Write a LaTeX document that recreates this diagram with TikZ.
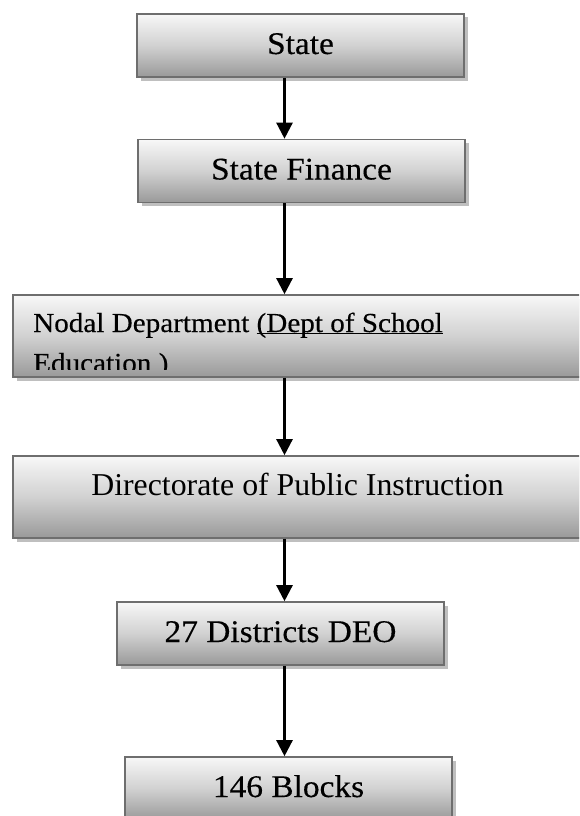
\documentclass[tikz,border=0pt]{standalone}
\usepackage{fontspec}
\setmainfont{Liberation Serif}
\newfontfamily\cambfont[FakeStretch=1.06,FakeBold=0.3]{Liberation Serif}
\usetikzlibrary{arrows.meta,shadows}
\newcommand\myuline[1]{\setbox0\hbox{#1}\rlap{\rule[-2.2pt]{\wd0}{1.4pt}}\box0}
\begin{document}
\begin{tikzpicture}[x=1pt,y=-1pt,
  boxbase/.style={draw=black!57, line width=1.6pt, top color=black!3, bottom color=black!40, middle color=black!18,
    drop shadow={shadow xshift=3.5pt, shadow yshift=-3.5pt, fill=black!25, opacity=1},
    inner sep=0pt, anchor=center, text=black},
  smallbox/.style={boxbase, minimum width=327pt, minimum height=63pt, text height=21pt, text depth=4pt,
    font=\cambfont\fontsize{31.5}{36}\selectfont},
  widebox/.style={boxbase, minimum width=569pt, minimum height=82pt},
  nodaltext/.style={inner sep=0pt, font=\cambfont\fontsize{27.5}{40}\selectfont},
  arr/.style={line width=2.4pt, draw=black, -{Triangle[width=16pt,length=16pt]}}]
\useasboundingbox (0,0) rectangle (579,816);
\clip (0,0) rectangle (579,816);
\coordinate (ax) at (284.5,0);
\node[smallbox] (state) at (300.5,45.5) {State};
\node[smallbox] (fin) at (301.5,171) {State Finance};
\node[widebox] (nodal) at (297.5,336) {};
\begin{scope}
  \clip (nodal.north west) rectangle (583,369);
  \node[nodaltext, anchor=base west] (nodal1) at (33,332) {Nodal Department \myuline{(Dept of School}};
  \node[nodaltext, anchor=base west] (nodal2) at (33,372) {Education )};
\end{scope}
\node[widebox, text height=20pt, text depth=24pt, font=\fontsize{31.8}{38}\selectfont] (dir) at (297.5,497) {Directorate of Public Instruction};
\node[smallbox] (deo) at (280.5,633.5) {27 Districts DEO};
\node[smallbox] (blocks) at (288.5,788.5) {146 Blocks};
\draw[arr] (state.south -| ax) -- (fin.north -| ax);
\draw[arr] (fin.south -| ax) -- (nodal.north -| ax);
\draw[arr] (nodal.south -| ax) -- (dir.north -| ax);
\draw[arr] (dir.south -| ax) -- (deo.north -| ax);
\draw[arr] (deo.south -| ax) -- (blocks.north -| ax);
\end{tikzpicture}
\end{document}
